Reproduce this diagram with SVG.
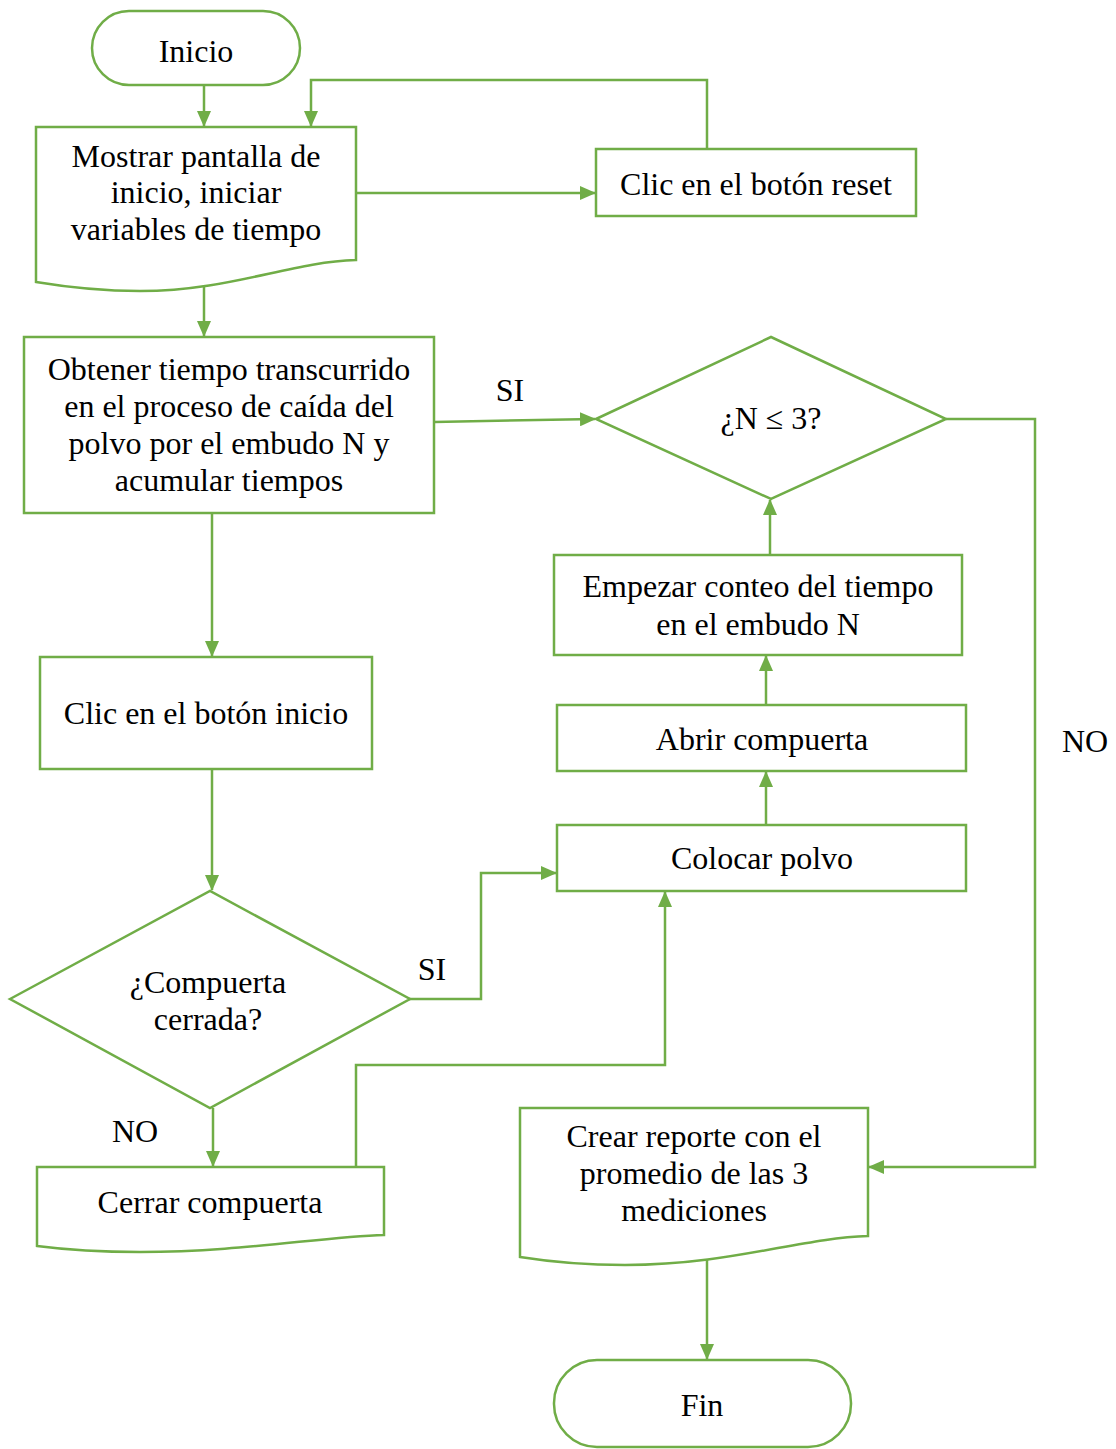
<svg xmlns="http://www.w3.org/2000/svg" width="1116" height="1449" viewBox="0 0 1116 1449">
<style>
.s{fill:#fff;stroke:#70AD47;stroke-width:2.5}
.c{fill:none;stroke:#70AD47;stroke-width:2.5}
text{font-family:"Liberation Serif","Times New Roman",serif;font-size:32px;fill:#000;text-anchor:middle;dominant-baseline:central}
</style>
<defs>
<marker id="a" markerUnits="userSpaceOnUse" markerWidth="16" markerHeight="14" refX="15" refY="7" orient="auto">
<path d="M0,0 L16,7 L0,14 Z" fill="#70AD47"/>
</marker>
</defs>
<g id="connectors">
<path class="c" d="M204,85 V126" marker-end="url(#a)"/>
<path class="c" d="M707,149 V80 H311 V126" marker-end="url(#a)"/>
<path class="c" d="M356,193 H595" marker-end="url(#a)"/>
<path class="c" d="M204,284 V336" marker-end="url(#a)"/>
<path class="c" d="M434,422 L595,419" marker-end="url(#a)"/>
<path class="c" d="M946,419 H1035 V1167 H869" marker-end="url(#a)"/>
<path class="c" d="M212,513 V656" marker-end="url(#a)"/>
<path class="c" d="M212,769 V890" marker-end="url(#a)"/>
<path class="c" d="M405,999 H481 V873 H556" marker-end="url(#a)"/>
<path class="c" d="M213,1108 V1166" marker-end="url(#a)"/>
<path class="c" d="M356,1167 V1065 H665 V892" marker-end="url(#a)"/>
<path class="c" d="M766,825 V772" marker-end="url(#a)"/>
<path class="c" d="M766,705 V656" marker-end="url(#a)"/>
<path class="c" d="M770,555 V500" marker-end="url(#a)"/>
<path class="c" d="M707,1250 V1359" marker-end="url(#a)"/>
<text x="510" y="390">SI</text>
<text x="1085" y="741">NO</text>
<text x="432" y="969">SI</text>
<text x="135" y="1131">NO</text>
</g>
<g id="inicio">
<rect class="s" x="92" y="11" width="208" height="74" rx="37"/>
<text x="196" y="51">Inicio</text>
</g>
<g id="mostrar">
<path class="s" d="M36,127 H356 V260 C290,262 230,291 140,291 C95,291 60,286 36,282 Z"/>
<text x="196" y="156">Mostrar pantalla de</text>
<text x="196" y="192">inicio, iniciar</text>
<text x="196" y="229">variables de tiempo</text>
</g>
<g id="reset">
<rect class="s" x="596" y="149" width="320" height="67"/>
<text x="756" y="184">Clic en el botón reset</text>
</g>
<g id="obtener">
<rect class="s" x="24" y="337" width="410" height="176"/>
<text x="229" y="369">Obtener tiempo transcurrido</text>
<text x="229" y="406">en el proceso de caída del</text>
<text x="229" y="443">polvo por el embudo N y</text>
<text x="229" y="480">acumular tiempos</text>
</g>
<g id="decisionN">
<polygon class="s" points="596,419 771,337 946,419 771,499"/>
<text x="771" y="418">¿N ≤ 3?</text>
</g>
<g id="clicInicio">
<rect class="s" x="40" y="657" width="332" height="112"/>
<text x="206" y="713">Clic en el botón inicio</text>
</g>
<g id="decisionCompuerta">
<polygon class="s" points="10,999 210,891 410,999 210,1108"/>
<text x="208" y="982">¿Compuerta</text>
<text x="208" y="1019">cerrada?</text>
</g>
<g id="cerrar">
<path class="s" d="M37,1167 H384 V1235 C320,1237 240,1252 140,1252 C95,1252 60,1249 37,1246 Z"/>
<text x="210" y="1202">Cerrar compuerta</text>
</g>
<g id="colocar">
<rect class="s" x="557" y="825" width="409" height="66"/>
<text x="762" y="858">Colocar polvo</text>
</g>
<g id="abrir">
<rect class="s" x="557" y="705" width="409" height="66"/>
<text x="762" y="739">Abrir compuerta</text>
</g>
<g id="empezar">
<rect class="s" x="554" y="555" width="408" height="100"/>
<text x="758" y="586">Empezar conteo del tiempo</text>
<text x="758" y="624">en el embudo N</text>
</g>
<g id="crear">
<path class="s" d="M520,1108 H868 V1236 C800,1238 730,1265 625,1265 C580,1265 545,1261 520,1257 Z"/>
<text x="694" y="1136">Crear reporte con el</text>
<text x="694" y="1173">promedio de las 3</text>
<text x="694" y="1210">mediciones</text>
</g>
<g id="fin">
<rect class="s" x="554" y="1360" width="297" height="87" rx="43"/>
<text x="702" y="1405">Fin</text>
</g>
</svg>
